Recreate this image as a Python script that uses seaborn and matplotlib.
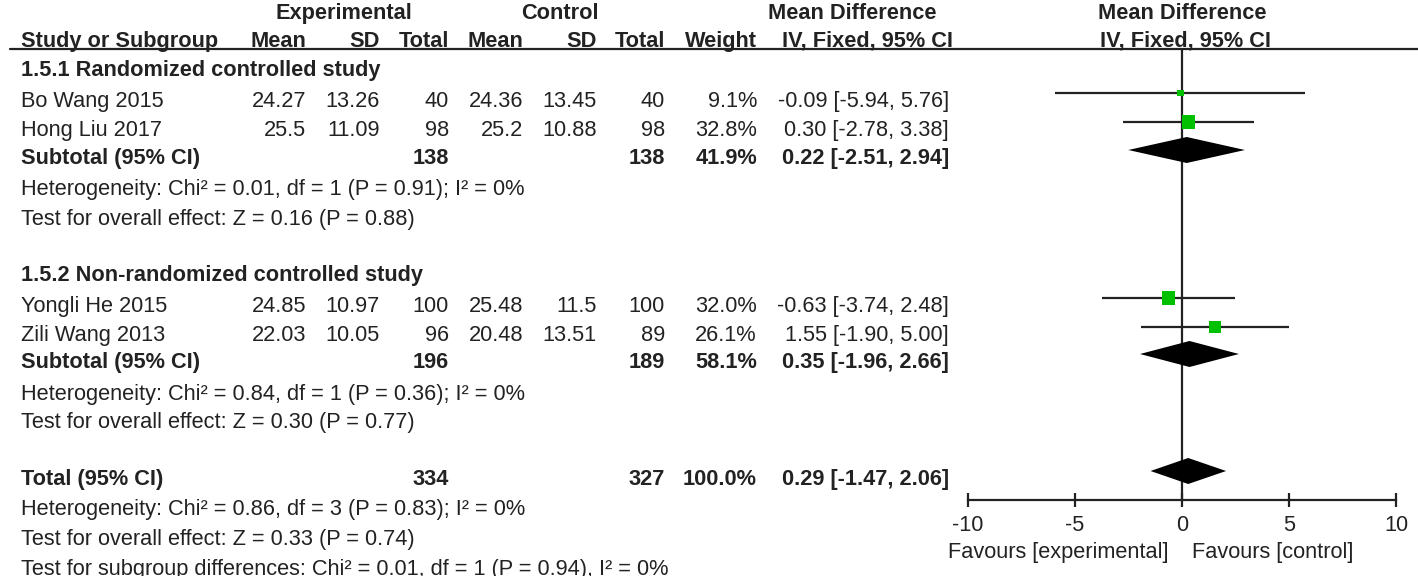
import matplotlib
matplotlib.use("Agg")
import matplotlib.pyplot as plt
import seaborn as sns
import pandas as pd

# ---------------- data ----------------
groups = ["1.5.1 Randomized controlled study", "1.5.2 Non-randomized controlled study"]
studies = ["Bo Wang 2015", "Hong Liu 2017", "Yongli He 2015", "Zili Wang 2013"]
study_group = [0, 0, 1, 1]
exp_mean = [24.27, 25.5, 24.85, 22.03]
exp_sd = [13.26, 11.09, 10.97, 10.05]
exp_n = [40, 98, 100, 96]
ctl_mean = [24.36, 25.2, 25.48, 20.48]
ctl_sd = [13.45, 10.88, 11.5, 13.51]
ctl_n = [40, 98, 100, 89]
weight = [9.1, 32.8, 32.0, 26.1]
md = [-0.09, 0.30, -0.63, 1.55]
md_lo = [-5.94, -2.78, -3.74, -1.90]
md_hi = [5.76, 3.38, 2.48, 5.00]

sub_exp_n = [138, 196]
sub_ctl_n = [138, 189]
sub_weight = [41.9, 58.1]
sub_md = [0.22, 0.35]
sub_lo = [-2.51, -1.96]
sub_hi = [2.94, 2.66]
sub_chi2 = [0.01, 0.84]
sub_df = [1, 1]
sub_p_het = [0.91, 0.36]
sub_i2 = [0, 0]
sub_z = [0.16, 0.30]
sub_p_z = [0.88, 0.77]

tot_exp_n = 334
tot_ctl_n = 327
tot_weight = 100.0
tot_md, tot_lo, tot_hi = 0.29, -1.47, 2.06
tot_chi2, tot_df, tot_p_het, tot_i2 = 0.86, 3, 0.83, 0
tot_z, tot_p_z = 0.33, 0.74
subdiff_chi2, subdiff_df, subdiff_p, subdiff_i2 = 0.01, 1, 0.94, 0

xticks = [-10, -5, 0, 5, 10]
fav_left = "Favours [experimental]"
fav_right = "Favours [control]"

# ---------------- style ----------------
sns.set_theme(style="white")
plt.rcParams["font.family"] = ["Liberation Sans", "DejaVu Sans"]
plt.rcParams["axes.unicode_minus"] = False
FS = 15.7
TXT = "#222222"
GREEN = "#00c000"

W, H = 1418, 576
fig = plt.figure(figsize=(W / 100, H / 100), dpi=100)
tax = fig.add_axes([0, 0, 1, 1])
tax.set_xlim(0, W)
tax.set_ylim(H, 0)
tax.axis("off")


def t(x, y, s, ha="left", bold=False):
    tax.text(x, y, s, ha=ha, va="baseline", fontsize=FS,
             fontweight="bold" if bold else "normal", color=TXT)


# column anchors (pixels)
X_NAME, X_EMEAN, X_ESD, X_EN = 21, 306, 380, 449
X_CMEAN, X_CSD, X_CN, X_W, X_CI = 523, 597, 665, 757, 949
PLOT_L, PLOT_R, PLOT_TOP, PLOT_BOT = 968, 1396, 49, 500

# row baselines (pixels)
Y_H1, Y_H2 = 19, 47
Y_GROUP = [76, 281]
Y_STUDY = [107, 136, 312, 341]
Y_SUB = [164, 368]
Y_HET = [195, 400]
Y_TEST = [225, 428]
Y_TOT, Y_TOT_HET, Y_TOT_TEST, Y_SUBDIFF = 485, 515, 545, 575
MARK_OFF = 14
DIA_H = 13

# headers
t(344, Y_H1, "Experimental", ha="center", bold=True)
t(560, Y_H1, "Control", ha="center", bold=True)
t(852, Y_H1, "Mean Difference", ha="center", bold=True)
t(1182, Y_H1, "Mean Difference", ha="center", bold=True)
t(X_NAME, Y_H2, "Study or Subgroup", bold=True)
for x, s in [(X_EMEAN, "Mean"), (X_ESD, "SD"), (X_EN, "Total"),
             (X_CMEAN, "Mean"), (X_CSD, "SD"), (X_CN, "Total"),
             (X_W, "Weight"), (X_CI + 4, "IV, Fixed, 95% CI")]:
    t(x, Y_H2, s, ha="right", bold=True)
t(1186, Y_H2, "IV, Fixed, 95% CI", ha="center", bold=True)
tax.axhline(PLOT_TOP, xmin=10 / W, xmax=1.0, color=TXT, lw=1.6)


def ci(m, l, h):
    return f"{m:.2f} [{l:.2f}, {h:.2f}]"


for i, name in enumerate(studies):
    y = Y_STUDY[i]
    t(X_NAME, y, name)
    t(X_EMEAN, y, f"{exp_mean[i]:g}", ha="right")
    t(X_ESD, y, f"{exp_sd[i]:g}", ha="right")
    t(X_EN, y, f"{exp_n[i]}", ha="right")
    t(X_CMEAN, y, f"{ctl_mean[i]:g}", ha="right")
    t(X_CSD, y, f"{ctl_sd[i]:g}", ha="right")
    t(X_CN, y, f"{ctl_n[i]}", ha="right")
    t(X_W, y, f"{weight[i]:.1f}%", ha="right")
    t(X_CI, y, ci(md[i], md_lo[i], md_hi[i]), ha="right")

for g, gname in enumerate(groups):
    t(X_NAME, Y_GROUP[g], gname, bold=True)
    y = Y_SUB[g]
    t(X_NAME, y, "Subtotal (95% CI)", bold=True)
    t(X_EN, y, f"{sub_exp_n[g]}", ha="right", bold=True)
    t(X_CN, y, f"{sub_ctl_n[g]}", ha="right", bold=True)
    t(X_W, y, f"{sub_weight[g]:.1f}%", ha="right", bold=True)
    t(X_CI, y, ci(sub_md[g], sub_lo[g], sub_hi[g]), ha="right", bold=True)
    t(X_NAME, Y_HET[g],
      f"Heterogeneity: Chi² = {sub_chi2[g]:.2f}, df = {sub_df[g]} (P = {sub_p_het[g]:.2f}); I² = {sub_i2[g]}%")
    t(X_NAME, Y_TEST[g], f"Test for overall effect: Z = {sub_z[g]:.2f} (P = {sub_p_z[g]:.2f})")

t(X_NAME, Y_TOT, "Total (95% CI)", bold=True)
t(X_EN, Y_TOT, f"{tot_exp_n}", ha="right", bold=True)
t(X_CN, Y_TOT, f"{tot_ctl_n}", ha="right", bold=True)
t(X_W, Y_TOT, f"{tot_weight:.1f}%", ha="right", bold=True)
t(X_CI, Y_TOT, ci(tot_md, tot_lo, tot_hi), ha="right", bold=True)
t(X_NAME, Y_TOT_HET,
  f"Heterogeneity: Chi² = {tot_chi2:.2f}, df = {tot_df} (P = {tot_p_het:.2f}); I² = {tot_i2}%")
t(X_NAME, Y_TOT_TEST, f"Test for overall effect: Z = {tot_z:.2f} (P = {tot_p_z:.2f})")
t(X_NAME, Y_SUBDIFF,
  f"Test for subgroup differences: Chi² = {subdiff_chi2:.2f}, df = {subdiff_df} (P = {subdiff_p:.2f}), I² = {subdiff_i2}%")

# ---------------- forest plot ----------------
ax = fig.add_axes([PLOT_L / W, (H - PLOT_BOT) / H,
                   (PLOT_R - PLOT_L) / W, (PLOT_BOT - PLOT_TOP) / H])
ax.set_xlim(xticks[0], xticks[-1])
ax.set_ylim(PLOT_BOT, PLOT_TOP)
ax.patch.set_alpha(0)
for side in ["top", "left", "right"]:
    ax.spines[side].set_visible(False)
ax.spines["bottom"].set_color(TXT)
ax.spines["bottom"].set_linewidth(1.6)
ax.set_yticks([])
ax.set_xticks(xticks)
ax.set_xticklabels([f"{v}" for v in xticks])
ax.tick_params(axis="x", bottom=True, direction="inout", length=10,
               width=1.6, pad=6, labelsize=FS, colors=TXT)
ax.axvline(0, color=TXT, lw=1.6, zorder=1)

df = pd.DataFrame({"study": studies, "md": md, "lo": md_lo, "hi": md_hi,
                   "weight": weight,
                   "y": [yb - MARK_OFF for yb in Y_STUDY]})
ax.hlines(df["y"], df["lo"], df["hi"], color=TXT, lw=1.6, zorder=2)
sns.scatterplot(data=df, x="md", y="y", size="weight",
                sizes={w: w * 2.75 for w in weight}, marker="s",
                color=GREEN, edgecolor="none", linewidth=0,
                legend=False, ax=ax, zorder=3)
ax.set_xlabel("")
ax.set_ylabel("")

pooled = [(sub_md[g], sub_lo[g], sub_hi[g], Y_SUB[g] - MARK_OFF) for g in range(2)]
pooled.append((tot_md, tot_lo, tot_hi, Y_TOT - MARK_OFF))
for m, l, h, y in pooled:
    ax.fill([l, m, h, m], [y, y - DIA_H, y, y + DIA_H], color="black",
            lw=0, zorder=4)

t(1168, 558, fav_left, ha="right")
t(1192, 558, fav_right, ha="left")

fig.savefig("out.png", dpi=100)
